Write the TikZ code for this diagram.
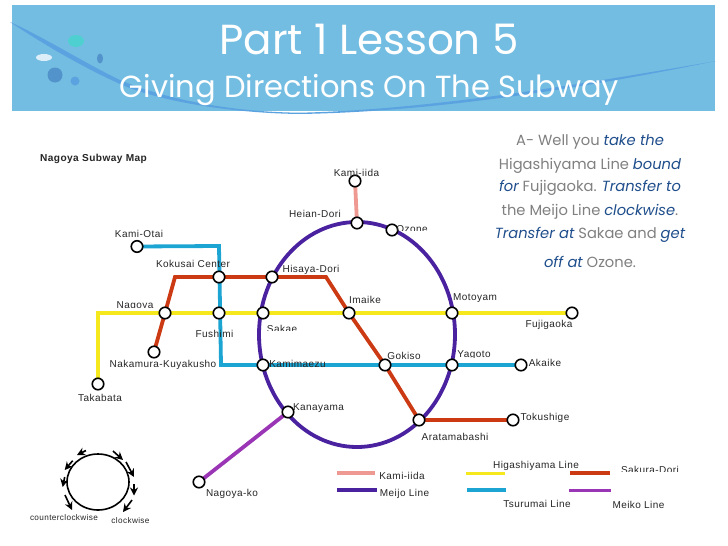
\documentclass[tikz,border=0pt]{standalone}
\usepackage{fontspec}
\setmainfont[LetterSpace=4.5]{Liberation Sans}
\newfontfamily\titlefont{Poppins}
\newfontfamily\bodyfont{Poppins}
\usetikzlibrary{arrows.meta}
\definecolor{band}{HTML}{74BDE2}
\definecolor{swoosh}{HTML}{5AA3E0}
\definecolor{tealdot}{HTML}{4FD0D0}
\definecolor{kamiC}{HTML}{EE9A92}
\definecolor{meijoC}{HTML}{4A22A0}
\definecolor{higaC}{HTML}{F5E91E}
\definecolor{sakuC}{HTML}{CC3A14}
\definecolor{tsuC}{HTML}{1CA4D2}
\definecolor{meikoC}{HTML}{9A35B5}
\definecolor{grayT}{HTML}{808080}
\definecolor{blueT}{HTML}{1F4E8C}
\tikzset{
  x=1pt,y=-1pt,
  stn/.style={circle,draw=black,fill=white,line width=1.6pt,minimum size=11.5pt,inner sep=0pt},
  lbl/.style={font=\fontsize{10}{11}\selectfont,text=black!85,inner sep=0pt},
  railK/.style={line width=3.8pt,draw=kamiC},
  railM/.style={line width=3.8pt,draw=meijoC},
  railH/.style={line width=3.8pt,draw=higaC},
  railS/.style={line width=3.8pt,draw=sakuC},
  railT/.style={line width=3.8pt,draw=tsuC},
  railP/.style={line width=3.8pt,draw=meikoC},
  turn/.style={line width=1.6pt,-{Stealth[length=8pt,width=8pt]}},
  para/.style={font=\bodyfont\fontsize{14.7}{16}\selectfont,text=grayT,inner sep=0pt},
  smalllbl/.style={font=\fontsize{8.2}{9}\selectfont,text=black!85,inner sep=0pt},
}
\newcommand{\emp}[1]{\textcolor{blueT}{\itshape #1}}
\begin{document}
\begin{tikzpicture}
\useasboundingbox (0,0) rectangle (728,546);
\fill[white] (0,0) rectangle (728,546);
% banner
\fill[band] (12,5) rectangle (715,111);
\fill[tealdot] (76,41) ellipse (8 and 6);
\fill[white!75!band] (44,57.5) ellipse (8 and 3.5);
\fill[swoosh!90!black] (55,75) ellipse (7.5 and 7.5);
\fill[swoosh] (75,81) ellipse (4.5 and 4.5);
\fill[swoosh!90!black] (100,58.5) ellipse (3 and 5);
\fill[swoosh] (10,22) .. controls (40,35) and (90,66) .. (120,80) .. controls (165,99) and (230,112) .. (300,112.7) .. controls (420,110) and (560,88) .. (716,61) .. controls (560,93) and (420,112) .. (300,114) .. controls (220,113) and (150,98) .. (120,84) .. controls (80,66) and (40,42) .. (10,22) -- cycle;
\node[text=white,font=\titlefont\fontsize{42}{48}\selectfont,inner sep=0pt] (title) at (369,39) {Part 1 Lesson 5};
\node[text=white,font=\titlefont\fontsize{30.5}{36}\selectfont,inner sep=0pt] (subtitle) at (369.5,90) {Giving Directions On The Subway};
% instructions
\node[para] (p1) at (590,142) {A- Well you \emp{take the}};
\node[para] (p2) at (590,166) {Higashiyama Line \emp{bound}};
\node[para] (p3) at (590,188) {\emp{for} Fujigaoka. \emp{Transfer to}};
\node[para] (p4) at (590,212) {the Meijo Line \emp{clockwise}.};
\node[para] (p5) at (590,235) {\emp{Transfer at} Sakae and \emp{get}};
\node[para] (p6) at (590,262) {\emp{off at} Ozone.};
\node[lbl,font=\bfseries\fontsize{10.1}{11}\selectfont] (maptitle) at (93.5,159) {Nagoya Subway Map};
% station coordinates
\coordinate (kaP) at (219,246);
\coordinate (kbP) at (221,365);
\coordinate (yaP) at (98,313);
\coordinate (sa1) at (175,277);
\coordinate (sa2) at (326,277);
% ring
\draw[railM] (357,334.5) ellipse (98 and 112.5);
% lines
\draw[railK] (355,181) -- (357,223);
\draw[railT] (137,246.5) -- (kaP) -- (kbP) -- (521,365);
\draw[railH] (98,384) -- (yaP) -- (572,313);
\draw[railS] (154,352) -- (165,313) -- (sa1) -- (sa2) -- (349,313) -- (385,365) -- (419,420) -- (513,420);
\draw[railP] (288,412) -- (199,482);
% stations
\node[stn] (kamiiida) at (355,181) {};
\node[stn] (heian) at (357,223) {};
\node[stn] (ozone) at (392,230) {};
\node[stn] (kamiotai) at (137,246.5) {};
\node[stn] (kokusai) at (219,277) {};
\node[stn] (hisaya) at (272,277) {};
\node[stn] (nagoya) at (165,313) {};
\node[stn] (fushimi) at (219,313) {};
\node[stn] (sakae) at (263,313) {};
\node[stn] (imaike) at (349,313) {};
\node[stn] (motoyama) at (452,313) {};
\node[stn] (fujigaoka) at (572,313) {};
\node[stn] (nakamura) at (154,352) {};
\node[stn] (kamimaezu) at (263,365) {};
\node[stn] (gokiso) at (385,365) {};
\node[stn] (yagoto) at (452,365) {};
\node[stn] (akaike) at (521,365) {};
\node[stn] (takabata) at (98,384) {};
\node[stn] (kanayama) at (288,412) {};
\node[stn] (aratama) at (419,420) {};
\node[stn] (tokushige) at (513,420) {};
\node[stn] (nagoyako) at (199,482) {};
% labels
\node[lbl] at (356.5,173) {Kami-iida};
\node[lbl] at (315,214) {Heian-Dori};
\node[lbl] at (139,234) {Kami-Otai};
\node[lbl] at (193,264) {Kokusai Center};
\node[lbl] at (311,270) {Hisaya-Dori};
\node[lbl] at (365,300) {Imaike};
\node[lbl] at (214.5,333.5) {Fushimi};
\node[lbl] at (163,365) {Nakamura-Kuyakusho};
\node[lbl] at (297.5,364) {Kamimaezu};
\node[lbl] at (404,356) {Gokiso};
\node[lbl] at (549,325) {Fujigaoka};
\node[lbl] at (545,362.5) {Akaike};
\node[lbl] at (545,418) {Tokushige};
\node[lbl] at (455,436.5) {Aratamabashi};
\node[lbl] at (100,398) {Takabata};
\node[lbl] at (318.5,408) {Kanayama};
\node[lbl] at (232,494) {Nagoya-ko};
% clipped labels
\begin{scope}\clip (100,295) rectangle (170,307);\node[lbl] at (135,306) {Nagoya};\end{scope}
\begin{scope}\clip (255,318) rectangle (310,330);\node[lbl] at (282,329) {Sakae};\end{scope}
\begin{scope}\clip (390,220) rectangle (440,230);\node[lbl] at (412,229) {Ozone};\end{scope}
\begin{scope}\clip (445,288) rectangle (505,301);\node[lbl] at (475,298.5) {Motoyam};\end{scope}
\begin{scope}\clip (450,346) rectangle (500,357.5);\node[lbl] at (474,355.5) {Yagoto};\end{scope}
\begin{scope}\clip (610,460) rectangle (690,471.5);\node[lbl] at (650,470) {Sakura-Dori};\end{scope}
% legend
\draw[railK] (337,473) -- (375,473); \node[lbl] at (402,475.5) {Kami-iida};
\draw[railM] (337,490) -- (377,490); \node[lbl] at (404.5,493.5) {Meijo Line};
\draw[railH] (466,473.5) -- (505,473.5); \node[lbl] at (536,465.5) {Higashiyama Line};
\draw[railT] (467,490) -- (506,490); \node[lbl] at (537,504) {Tsurumai Line};
\draw[railS] (570,473) -- (610,473);
\draw[railP] (569,490.5) -- (611,490.5); \node[lbl] at (638.5,505) {Meiko Line};
% direction ring
\draw[line width=1.6pt] (98,482) ellipse (31 and 28);
\draw[turn] (86,450.5) -- (77,455);
\draw[turn] (72.7,460.7) -- (64.7,470);
\draw[turn] (64.7,477) -- (62.7,487);
\draw[turn] (65,495) -- (72,510);
\draw[turn] (113,451) -- (123,460);
\draw[turn] (126,462) -- (134,477);
\draw[turn] (134,484) -- (134,495.5);
\draw[turn] (132,500) -- (123,512);
\node[smalllbl] at (64,518) {counterclockwise};
\node[smalllbl] at (130.5,521) {clockwise};
\end{tikzpicture}
\end{document}
